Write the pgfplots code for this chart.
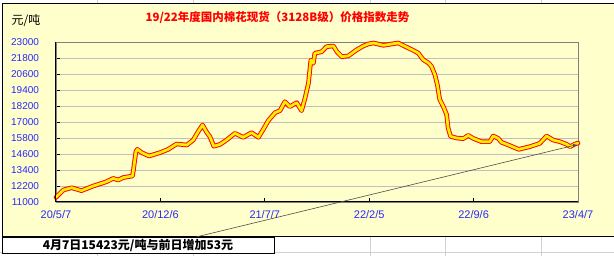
\documentclass[border=0pt]{standalone}
\usepackage{fontspec}
\setmainfont{Liberation Sans}
\newfontfamily\cjk{Noto Sans CJK SC}
\usepackage{pgfplots}
\usepackage{pgfplotstable}
\pgfplotsset{compat=1.18}
\usetikzlibrary{arrows.meta}
\definecolor{bgyellow}{RGB}{255,255,204}
\definecolor{tickblue}{RGB}{40,40,255}
\definecolor{cellgray}{RGB}{208,208,208}
\definecolor{lineyellow}{RGB}{255,240,0}

\pgfplotstableread{
d v
0 11350
15 11900
32 12070
52 11850
76 12200
103 12520
117 12770
127 12650
137 12830
156 12950
158 13400
163 14775
166 14950
175 14700
190 14450
212 14700
229 14950
246 15350
267 15275
280 15650
290 16275
299 16775
307 16250
314 15900
322 15180
335 15325
348 15650
365 16150
382 15850
399 16200
413 15850
423 16450
433 17100
447 17700
457 17850
467 18525
477 18150
491 18450
501 17850
508 18775
515 19900
520 21650
525 21400
528 22150
542 22275
552 22650
566 22700
573 22275
583 21900
596 21950
613 22400
627 22700
637 22850
648 22925
668 22750
685 22850
698 22925
712 22675
726 22425
739 22175
749 21675
760 21425
766 21175
773 20550
778 19800
783 18675
790 18175
797 17550
800 16550
805 15925
817 15800
831 15750
841 16000
851 15775
868 15525
885 15525
892 15950
902 15775
909 15475
923 15275
944 14950
967 15150
987 15400
1001 15950
1014 15650
1028 15525
1042 15325
1049 15150
1059 15350
1065 15423
}\cotton

\begin{document}
\begin{tikzpicture}
\useasboundingbox (0,0) rectangle (614pt,-256pt);
\fill[white] (0,0) rectangle (614pt,-256pt);
% spreadsheet cell lines
\foreach \gx in {97,193,370,445,541} {
  \draw[cellgray, line width=0.6pt] (\gx pt,0) -- (\gx pt,-4pt);
  \draw[cellgray, line width=0.6pt] (\gx pt,-237pt) -- (\gx pt,-256pt);
}
\draw[cellgray, line width=0.6pt] (0,-252pt) -- (614pt,-252pt);
% chart area
\fill[bgyellow] (2pt,-4pt) rectangle (614pt,-237pt);
\draw[black, line width=1pt] (614pt,-4pt) -- (2pt,-4pt) -- (2pt,-237pt) -- (614pt,-237pt);

\begin{axis}[
  at={(56pt,-202pt)}, anchor=south west,
  width=522pt, height=160pt, scale only axis,
  xmin=0, xmax=1065, ymin=11000, ymax=23000,
  xtick={0,213,426,639,852,1065},
  xticklabels={20/5/7,20/12/6,21/7/7,22/2/5,22/9/6,23/4/7},
  ytick={11000,12200,13400,14600,15800,17000,18200,19400,20600,21800,23000},
  scaled ticks=false,
  ymajorgrids, grid style={draw=gray!50, line width=0.7pt},
  tick align=inside, major tick length=4pt,
  xtick pos=bottom, ytick pos=left,
  tick style={black, line width=0.7pt},
  axis line style={draw=gray, line width=0.9pt},
  /pgf/number format/.cd, fixed, set thousands separator={}, assume math mode=true,
  /pgfplots/.cd,
  yticklabel style={text=tickblue, font=\fontsize{10}{12}\selectfont, xshift=-13.5pt},
  xticklabel style={text=tickblue, font=\fontsize{11}{13}\selectfont, yshift=-5pt},
  clip=false,
]
\addplot[red, line width=4.6pt, line join=round, line cap=round] table[x=d,y=v] {\cotton};
\addplot[lineyellow, line width=2.7pt, line join=round, line cap=round] table[x=d,y=v] {\cotton};
\draw[black, line width=1pt] (rel axis cs:0,1) -- (rel axis cs:0,0) -- (rel axis cs:1,0);
\coordinate (endpt) at (axis cs:1063,15300);
\end{axis}

\draw[gray!60!black, line width=0.6pt, -{Latex[length=4pt,width=3.5pt]}] (196pt,-237pt) -- (endpt);

\node[text=red, font=\cjk\bfseries\fontsize{11.5}{13}\selectfont] at (277.5pt,-18pt) {19/22年度国内棉花现货（3128B级）价格指数走势};
\node[font=\cjk\fontsize{12}{14}\selectfont] at (26pt,-21pt) {元/吨};

\draw[black, fill=white, line width=0.9pt] (2pt,-237pt) rectangle (274pt,-253pt);
\node[font=\cjk\bfseries\fontsize{12}{14}\selectfont] at (138pt,-245.5pt) {4月7日15423元/吨与前日增加53元};
\end{tikzpicture}
\end{document}
